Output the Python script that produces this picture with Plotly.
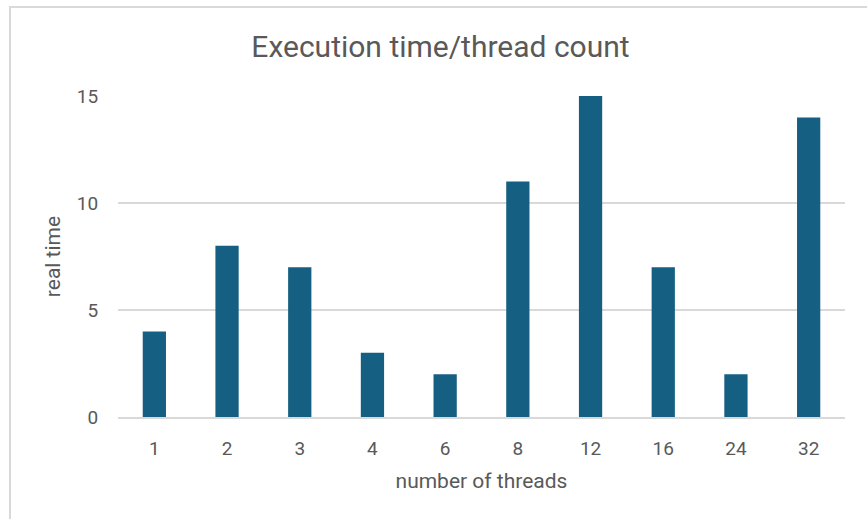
import plotly.graph_objects as go

threads = ["1", "2", "3", "4", "6", "8", "12", "16", "24", "32"]
real_time = [4, 8, 7, 3, 2, 11, 15, 7, 2, 14]
y_ticks = [0, 5, 10, 15]

W, H = 867, 519
L, R, T, B = 118, 22, 96, 102
pw = W - L - R
ph = H - T - B

text_color = "#595959"
grid_color = "#d9d9d9"
font_family = "Roboto, 'Open Sans', sans-serif"

fig = go.Figure(go.Bar(
    x=threads, y=real_time,
    marker=dict(color="#156082", line=dict(width=0)),
    width=0.32,
))

fig.update_layout(
    width=W, height=H,
    margin=dict(l=L, r=R, t=T, b=B, autoexpand=False),
    paper_bgcolor="white", plot_bgcolor="white",
    font=dict(family=font_family, color=text_color, size=19),
    showlegend=False,
    title=dict(text="Execution time/thread count", x=440.5 / W, xanchor="center",
               y=1 - 46 / H, yanchor="middle", xref="container", yref="container",
               font=dict(size=30, color=text_color, family=font_family)),
    xaxis=dict(type="category", showgrid=False, showline=True, linecolor=grid_color, linewidth=2,
               ticks="outside", ticklen=13, tickcolor="rgba(0,0,0,0)",
               tickfont=dict(size=19, color=text_color),
               title=dict(text="number of threads", standoff=15, font=dict(size=21, color=text_color))),
    yaxis=dict(range=[0, 15], tickvals=y_ticks, showgrid=True, gridcolor=grid_color, gridwidth=1.5,
               zeroline=False, showline=False,
               ticks="outside", ticklen=15, tickcolor="rgba(0,0,0,0)",
               tickfont=dict(size=19, color=text_color),
               title=dict(text="real time", standoff=10, font=dict(size=21, color=text_color))),
    shapes=[dict(type="rect", xref="paper", yref="paper",
                 x0=(10 - L) / pw, x1=(W + 10 - L) / pw,
                 y0=(H - B - (H + 10)) / ph, y1=(H - B - 7) / ph,
                 line=dict(color=grid_color, width=2), fillcolor="rgba(0,0,0,0)", layer="below")],
)

fig.write_html("out.html", config={"displayModeBar": False},
               post_script="document.body.style.margin='0';")
